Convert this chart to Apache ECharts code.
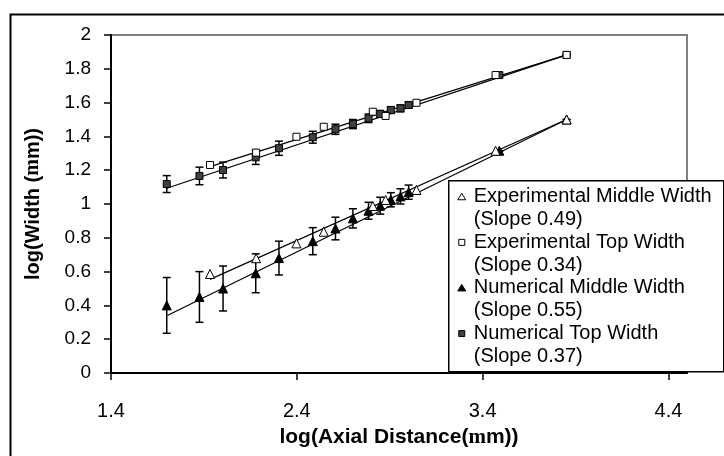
<!DOCTYPE html>
<html>
<head>
<meta charset="utf-8">
<script src="https://cdn.jsdelivr.net/npm/echarts@6/dist/echarts.min.js"></script>
<style>
  html, body { margin: 0; padding: 0; background: #fff; }
  #chart { width: 724px; height: 456px; }
</style>
</head>
<body>
<div id="chart"></div>
<script>
// numerical runs share the same axial positions
const numX = [1.700, 1.876, 2.003, 2.179, 2.304, 2.486, 2.608, 2.702, 2.786, 2.849, 2.906, 2.958, 3.002, 3.490, 3.852];
const numMidY = [0.40, 0.45, 0.50, 0.59, 0.68, 0.78, 0.855, 0.915, 0.96, 0.99, 1.025, 1.045, 1.07, 1.315, 1.50];
const numMidErr = [0.165, 0.15, 0.133, 0.115, 0.10, 0.08, 0.067, 0.057, 0.05, 0.05, 0.042, 0.045, 0.042, 0, 0];
const numTopY = [1.118, 1.166, 1.201, 1.276, 1.33, 1.395, 1.442, 1.473, 1.507, 1.533, 1.556, 1.566, 1.586, 1.763, 1.882];
const numTopErr = [0.05, 0.052, 0.047, 0.042, 0.042, 0.035, 0.03, 0.027, 0.025, 0.02, 0.02, 0.02, 0.018, 0, 0];

// experimental measurements
const expX = [1.933, 2.181, 2.398, 2.545, 2.809, 2.878, 3.044, 3.470, 3.852];
const expMidY = [0.586, 0.679, 0.767, 0.836, 0.988, 1.024, 1.083, 1.315, 1.50];
const expTopY = [1.231, 1.304, 1.398, 1.457, 1.546, 1.521, 1.599, 1.763, 1.882];

// fitted lines (end points)
const expMidFit = [[1.933, 0.554], [3.852, 1.50]];
const numMidFit = [[1.703, 0.34], [3.852, 1.50]];
const expTopFit = [[1.933, 1.221], [3.852, 1.882]];
const numTopFit = [[1.700, 1.093], [3.852, 1.882]];

const xTicks = [1.4, 2.4, 3.4, 4.4];

const legendItems = [
    {name: 'Experimental Middle Width', slope: '(Slope 0.49)', symbol: 'triangle', fill: '#fff'},
    {name: 'Experimental Top Width', slope: '(Slope 0.34)', symbol: 'rect', fill: '#fff'},
    {name: 'Numerical Middle Width', slope: '(Slope 0.55)', symbol: 'triangle', fill: '#000'},
    {name: 'Numerical Top Width', slope: '(Slope 0.37)', symbol: 'rect', fill: '#404040'}
];

const FONT = '"Liberation Sans", Arial, sans-serif';

const zip = (xs, ys) => xs.map((x, i) => [x, ys[i]]);
const errData = (xs, ys, es) => xs.map((x, i) => [x, ys[i] - es[i], ys[i] + es[i]]);

const errorBars = (data) => ({
    type: 'custom',
    data: data,
    z: 3,
    silent: true,
    renderItem: (params, api) => {
        const x = api.value(0);
        const lo = api.coord([x, api.value(1)]);
        const hi = api.coord([x, api.value(2)]);
        const w = 4;
        const st = {stroke: '#000', lineWidth: 1.5};
        return {
            type: 'group',
            children: [
                {type: 'line', shape: {x1: lo[0], y1: lo[1], x2: hi[0], y2: hi[1]}, style: st},
                {type: 'line', shape: {x1: lo[0] - w, y1: lo[1], x2: lo[0] + w, y2: lo[1]}, style: st},
                {type: 'line', shape: {x1: hi[0] - w, y1: hi[1], x2: hi[0] + w, y2: hi[1]}, style: st}
            ]
        };
    }
});

const fitLine = (data) => ({
    type: 'line',
    data: data,
    symbol: 'none',
    z: 2,
    silent: true,
    lineStyle: {color: '#000', width: 1.2}
});

const scatter = (data, symbol, size, fill) => ({
    type: 'scatter',
    data: data,
    symbol: symbol,
    symbolSize: size,
    z: 4,
    itemStyle: {color: fill, borderColor: '#000', borderWidth: 1, opacity: 1}
});

// legend box drawn as graphic so the slope sits on its own line
const legendGraphic = () => {
    const left = 448, top = 180, lineH = 22.8;
    const children = [{
        type: 'rect',
        shape: {x: 0, y: 0, width: 275, height: 191},
        style: {fill: '#fff', stroke: '#000', lineWidth: 1.5}
    }];
    legendItems.forEach((it, i) => {
        const cy = 16 + i * 2 * lineH;
        if (it.symbol === 'triangle') {
            children.push({
                type: 'polygon',
                shape: {points: [[13, cy - 3.5], [17, cy + 3], [9, cy + 3]]},
                style: {fill: it.fill, stroke: '#000', lineWidth: 1}
            });
        } else {
            children.push({
                type: 'rect',
                shape: {x: 10, y: cy - 3, width: 6, height: 6},
                style: {fill: it.fill, stroke: '#000', lineWidth: 1}
            });
        }
        children.push({
            type: 'text', x: 25, y: cy,
            style: {text: it.name, font: '20px ' + FONT, fill: '#000', verticalAlign: 'middle'}
        });
        children.push({
            type: 'text', x: 25, y: cy + lineH,
            style: {text: it.slope, font: '20px ' + FONT, fill: '#000', verticalAlign: 'middle'}
        });
    });
    return {type: 'group', left: left, top: top, z: 100, children: children};
};

const chart = echarts.init(document.getElementById('chart'), null, {renderer: 'canvas'});

chart.setOption({
    animation: false,
    backgroundColor: '#fff',
    textStyle: {fontFamily: FONT},
    grid: {
        left: 111, top: 35, width: 576, height: 338,
        show: true, borderColor: '#808080', borderWidth: 2, backgroundColor: '#fff'
    },
    xAxis: {
        type: 'value',
        min: 1.4, max: 4.5,
        splitLine: {show: false},
        axisLine: {onZero: false, lineStyle: {color: '#000', width: 2}},
        axisTick: {length: 7, lineStyle: {color: '#000', width: 1.5}, customValues: xTicks},
        axisLabel: {customValues: xTicks, margin: 28, fontSize: 20, color: '#000', fontFamily: FONT,
            formatter: v => v.toFixed(1)},
        name: 'log(Axial Distance({s|m}m))',
        nameLocation: 'middle',
        nameGap: 54,
        nameTextStyle: {
            fontSize: 21, fontWeight: 'bold', color: '#000', fontFamily: FONT,
            rich: {s: {fontSize: 21, fontFamily: '"Liberation Serif", serif', color: '#000'}}
        }
    },
    yAxis: {
        type: 'value',
        min: 0, max: 2, interval: 0.2,
        splitLine: {show: false},
        axisLine: {onZero: false, lineStyle: {color: '#000', width: 2}},
        axisTick: {length: 7, lineStyle: {color: '#000', width: 1.5}},
        axisLabel: {margin: 20, fontSize: 19, color: '#000', fontFamily: FONT},
        name: 'log(Width ({s|m}m))',
        nameLocation: 'middle',
        nameGap: 68,
        nameTextStyle: {
            fontSize: 20, fontWeight: 'bold', color: '#000', fontFamily: FONT,
            rich: {s: {fontSize: 20, fontFamily: '"Liberation Serif", serif', color: '#000'}}
        }
    },
    graphic: [
        {
            type: 'rect', left: 8, top: 12, z: -10, silent: true,
            shape: {width: 740, height: 470},
            style: {fill: 'none', stroke: '#000', lineWidth: 2}
        },
        legendGraphic()
    ],
    series: [
        fitLine(expMidFit),
        fitLine(numMidFit),
        fitLine(expTopFit),
        fitLine(numTopFit),
        errorBars(errData(numX, numMidY, numMidErr)),
        errorBars(errData(numX, numTopY, numTopErr)),
        scatter(zip(numX, numMidY), 'triangle', 9, '#000'),
        scatter(zip(numX, numTopY), 'rect', 7, '#404040'),
        scatter(zip(expX, expMidY), 'triangle', 9, '#fff'),
        scatter(zip(expX, expTopY), 'rect', 7, '#fff')
    ]
});
</script>
</body>
</html>
